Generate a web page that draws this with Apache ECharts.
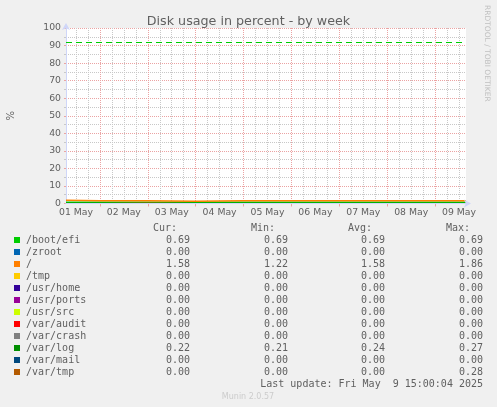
<!DOCTYPE html>
<html lang="en">
<head>
<meta charset="UTF-8" />
<title>Disk usage in percent - by week</title>
<script src="https://cdn.jsdelivr.net/npm/echarts@6.0.0/dist/echarts.min.js"></script>
<style>
    html, body { margin: 0; padding: 0; background: #f0f0f0; }
    #chart { width: 497px; height: 407px; }
</style>
</head>
<body>
<div id="chart"></div>
<script>
// sample times, hours counted from 01 May 00:00
var hours = [7, 24, 48, 72, 96, 120, 144, 168, 192, 207.5];

// x axis: day labels sit at noon, grid every 6h, red grid at midnight
var dayLabels = ['01 May', '02 May', '03 May', '04 May', '05 May', '06 May', '07 May', '08 May', '09 May'];
var labelHours = [12, 36, 60, 84, 108, 132, 156, 180, 204];
var minorHours = [12, 18, 30, 36, 42, 54, 60, 66, 78, 84, 90, 102, 108, 114, 126, 132, 138,
    150, 156, 162, 174, 180, 186, 198, 204];
var midnightHours = [24, 48, 72, 96, 120, 144, 168, 192];

var mountNames = ['/boot/efi', '/zroot', '/', '/tmp', '/usr/home', '/usr/ports', '/usr/src',
    '/var/audit', '/var/crash', '/var/log', '/var/mail', '/var/tmp'];
var mountColors = ['#00cc00', '#0066b3', '#ff8000', '#ffcc00', '#330099', '#990099', '#ccff00',
    '#ff0000', '#808080', '#008f00', '#00487d', '#b35a00'];

// values (percent)
var bootEfi  = [0.69, 0.69, 0.69, 0.69, 0.69, 0.69, 0.69, 0.69, 0.69, 0.69];
var zroot    = [0, 0, 0, 0, 0, 0, 0, 0, 0, 0];
var root     = [1.86, 1.62, 1.5, 1.22, 1.58, 1.6, 1.58, 1.58, 1.6, 1.58];
var tmp      = [0, 0, 0, 0, 0, 0, 0, 0, 0, 0];
var usrHome  = [0, 0, 0, 0, 0, 0, 0, 0, 0, 0];
var usrPorts = [0, 0, 0, 0, 0, 0, 0, 0, 0, 0];
var usrSrc   = [0, 0, 0, 0, 0, 0, 0, 0, 0, 0];
var varAudit = [0, 0, 0, 0, 0, 0, 0, 0, 0, 0];
var varCrash = [0, 0, 0, 0, 0, 0, 0, 0, 0, 0];
var varLog   = [0.27, 0.25, 0.24, 0.21, 0.25, 0.24, 0.23, 0.24, 0.22, 0.22];
var varMail  = [0, 0, 0, 0, 0, 0, 0, 0, 0, 0];
var varTmp   = [0, 0, 0.28, 0, 0, 0, 0, 0, 0, 0];
var seriesValues = [bootEfi, zroot, root, tmp, usrHome, usrPorts, usrSrc, varAudit, varCrash, varLog, varMail, varTmp];

var warningLevel = 92;

// legend table
var curVals = [0.69, 0.00, 1.58, 0.00, 0.00, 0.00, 0.00, 0.00, 0.00, 0.22, 0.00, 0.00];
var minVals = [0.69, 0.00, 1.22, 0.00, 0.00, 0.00, 0.00, 0.00, 0.00, 0.21, 0.00, 0.00];
var avgVals = [0.69, 0.00, 1.58, 0.00, 0.00, 0.00, 0.00, 0.00, 0.00, 0.24, 0.00, 0.00];
var maxVals = [0.69, 0.00, 1.86, 0.00, 0.00, 0.00, 0.00, 0.00, 0.00, 0.27, 0.00, 0.28];
var lastUpdate = 'Last update: Fri May  9 15:00:04 2025';

var fontColor = '#606060';
var gridGray = '#c8c8c8';
var gridRed = '#eba3a3';
var axisBlue = '#cfd6f8';
var mono = '10px "DejaVu Sans Mono"';
// the two lines that sit clearly above zero get drawn a bit heavier
var thickLines = ['/boot/efi', '/'];

var chart = echarts.init(document.getElementById('chart'), null, { renderer: 'canvas' });

var series = seriesValues.map(function (vals, i) {
    var s = {
        name: mountNames[i],
        type: 'line',
        xAxisIndex: 0,
        data: vals.map(function (v, j) { return [hours[j], v]; }),
        showSymbol: false,
        symbol: 'none',
        lineStyle: { color: mountColors[i], width: thickLines.indexOf(mountNames[i]) >= 0 ? 1.5 : 1 },
        itemStyle: { color: mountColors[i] },
        animation: false,
        silent: true
    };
    if (i === 0) {
        // warning level of /boot/efi
        s.markLine = {
            silent: true,
            symbol: 'none',
            label: { show: false },
            lineStyle: { color: mountColors[0], type: [6, 4], width: 1 },
            data: [{ yAxis: warningLevel }]
        };
    }
    return s;
});

// legend as a table under the plot
var graphics = [];
function txt(x, y, s, align, font, color) {
    graphics.push({
        type: 'text', x: x, y: y, silent: true,
        style: {
            text: s, font: font || mono, fill: color || fontColor,
            textAlign: align, textVerticalAlign: 'middle',
            align: align, verticalAlign: 'middle'
        }
    });
}
var colRight = [190, 288, 385, 483];
var headers = ['Cur:', 'Min:', 'Avg:', 'Max:'];
headers.forEach(function (h, c) { txt(colRight[c] - 13, 228, h, 'right'); });
mountNames.forEach(function (name, i) {
    var y = 240 + i * 12;
    graphics.push({
        type: 'rect', silent: true,
        shape: { x: 14, y: y - 3, width: 6, height: 6 },
        style: { fill: mountColors[i] }
    });
    txt(26, y, name, 'left');
    [curVals, minVals, avgVals, maxVals].forEach(function (arr, c) {
        txt(colRight[c], y, arr[i].toFixed(2), 'right');
    });
});
txt(483, 384, lastUpdate, 'right');
txt(248, 396.5, 'Munin 2.0.57', 'center', '8px "DejaVu Sans"', '#cccccc');
graphics.push({
    type: 'text', x: 487, y: 5, rotation: -Math.PI / 2, silent: true,
    style: {
        text: 'RRDTOOL / TOBI OETIKER', font: '7.5px "DejaVu Sans"', fill: '#c0c0c0',
        textAlign: 'left', textVerticalAlign: 'middle', align: 'left', verticalAlign: 'middle'
    }
});

var option = {
    backgroundColor: '#f0f0f0',
    animation: false,
    title: {
        text: 'Disk usage in percent - by week',
        left: 'center',
        top: 10,
        textStyle: { fontFamily: 'DejaVu Sans', fontSize: 12.7, fontWeight: 'normal', color: fontColor }
    },
    grid: {
        left: 66, right: 31, top: 28, bottom: 203.5,
        show: true, backgroundColor: '#ffffff', borderWidth: 0,
        containLabel: false, outerBoundsMode: 'none'
    },
    xAxis: [{
        // 6-hour grid and the day labels
        type: 'value',
        min: 7,
        max: 207.5,
        axisLine: { show: false },
        axisTick: { show: false, customValues: minorHours },
        axisLabel: {
            customValues: labelHours,
            color: fontColor, fontFamily: 'DejaVu Sans', fontSize: 9.3, margin: 5,
            formatter: function (v) { return dayLabels[labelHours.indexOf(v)] || ''; }
        },
        splitLine: { show: true, lineStyle: { color: gridGray, type: [1, 1], width: 1 } }
    }, {
        // midnight grid
        type: 'value',
        min: 7,
        max: 207.5,
        position: 'bottom',
        axisLine: { show: false },
        axisTick: { show: true, customValues: midnightHours, length: 3, lineStyle: { color: gridRed } },
        axisLabel: { show: false },
        splitLine: { show: true, lineStyle: { color: gridRed, type: [1, 1], width: 1 } }
    }, {
        // axis line with arrow, drawn above the series
        type: 'value',
        min: 7,
        max: 207.5,
        position: 'bottom',
        z: 10,
        axisLine: {
            show: true, onZero: false,
            lineStyle: { color: axisBlue, width: 1 },
            symbol: ['none', 'arrow'], symbolSize: [6, 7], symbolOffset: [0, 5]
        },
        axisTick: { show: false },
        axisLabel: { show: false },
        splitLine: { show: false }
    }],
    yAxis: {
        type: 'value',
        min: 0,
        max: 100,
        interval: 10,
        name: '%',
        nameLocation: 'middle',
        nameGap: 50,
        nameRotate: 90,
        nameTextStyle: { color: fontColor, fontFamily: 'DejaVu Sans', fontSize: 10 },
        axisLine: {
            show: true,
            lineStyle: { color: axisBlue, width: 1 },
            symbol: ['none', 'arrow'], symbolSize: [6, 7], symbolOffset: [0, 5]
        },
        axisTick: { show: true, length: 2, lineStyle: { color: gridRed } },
        axisLabel: { color: fontColor, fontFamily: 'DejaVu Sans', fontSize: 9.3, margin: 5 },
        splitLine: { show: true, lineStyle: { color: gridRed, type: [1, 1], width: 1 } },
        minorTick: { show: true, splitNumber: 2, length: 2, lineStyle: { color: gridGray } },
        minorSplitLine: { show: true, lineStyle: { color: gridGray, type: [1, 1], width: 1 } }
    },
    graphic: graphics,
    series: series
};

chart.setOption(option);
</script>
</body>
</html>
